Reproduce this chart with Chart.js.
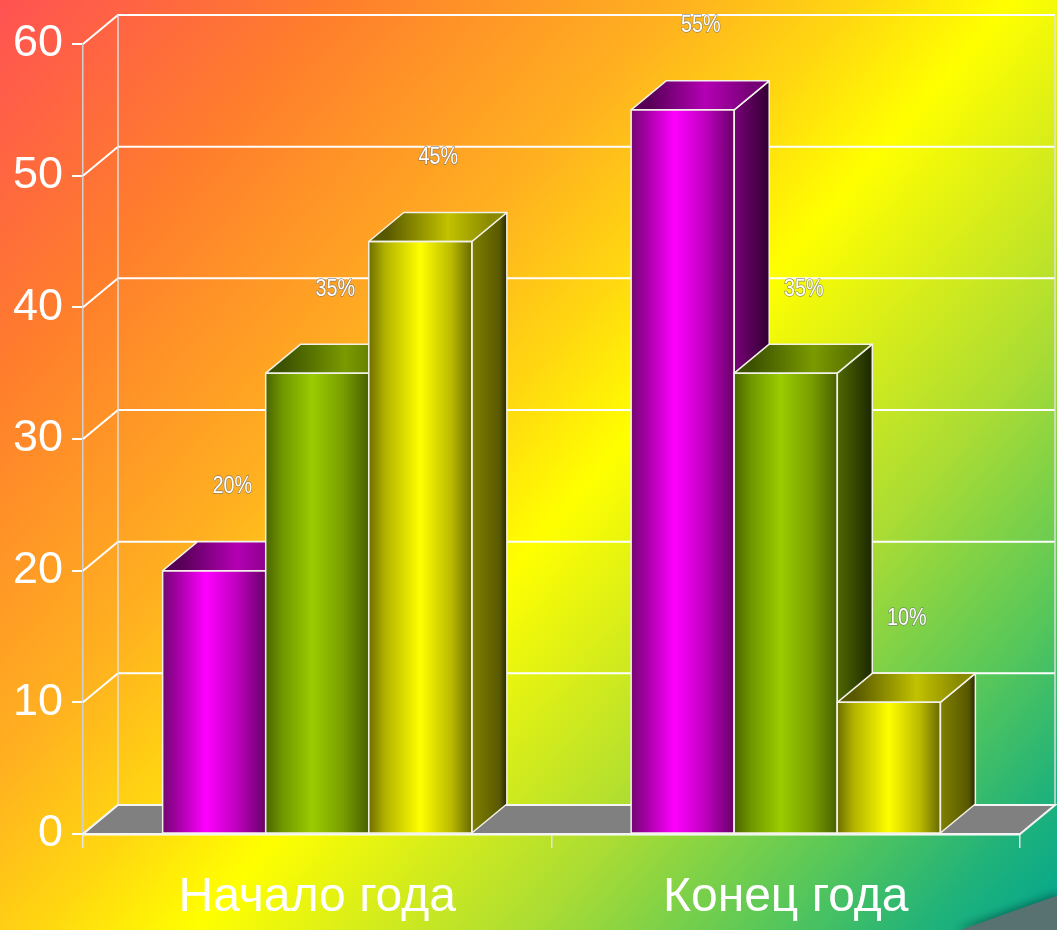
<!DOCTYPE html>
<html>
<head>
<meta charset="utf-8">
<script src="https://cdn.jsdelivr.net/npm/chart.js@4/dist/chart.umd.min.js"></script>
<style>
  html, body { margin: 0; padding: 0; background: #fff; }
  #wrap { width: 1057px; height: 930px; }
</style>
</head>
<body>
<div id="wrap"><canvas id="c" width="1057" height="930"></canvas></div>
<script>
// ---- data ----
const categories = ['Начало года', 'Конец года'];
const series1 = [20, 55];   // magenta
const series2 = [35, 35];   // green
const series3 = [45, 10];   // yellow
const yMin = 0, yMax = 60, yStep = 10;

// ---- styles ----
const DEPTH_X = 35, DEPTH_Y = -29;
const palettes = [
  { front: [[0,'#720872'],[0.14,'#A200A2'],[0.42,'#FF00FF'],[0.72,'#BE00BE'],[1,'#680068']],
    side:  [[0,'#780078'],[1,'#320032']],
    top:   [[0,'#560056'],[0.55,'#B400B4'],[1,'#760076']] },
  { front: [[0,'#4A6400'],[0.16,'#6E9600'],[0.45,'#9ACC00'],[0.75,'#789E00'],[1,'#486000']],
    side:  [[0,'#4E6800'],[1,'#1C2800']],
    top:   [[0,'#3C5200'],[0.6,'#7A9A00'],[1,'#587000']] },
  { front: [[0,'#6E6E00'],[0.16,'#B2B200'],[0.5,'#FFFF00'],[0.8,'#BABA00'],[1,'#686800']],
    side:  [[0,'#808000'],[0.8,'#585800'],[1,'#282800']],
    top:   [[0,'#585800'],[0.6,'#C2C200'],[1,'#8A8A00']] }
];

function grad(ctx, x0, x1, stops) {
  const g = ctx.createLinearGradient(x0, 0, x1, 0);
  stops.forEach(s => g.addColorStop(s[0], s[1]));
  return g;
}

const bgPlugin = {
  id: 'bg',
  beforeDraw(chart) {
    const ctx = chart.ctx, w = chart.width, h = chart.height;
    ctx.save();
    const g = ctx.createLinearGradient(0, 0, w, h);
    g.addColorStop(0, '#FF5252');
    g.addColorStop(0.18, '#FF7E2C');
    g.addColorStop(0.36, '#FFB020');
    g.addColorStop(0.46, '#FFD810');
    g.addColorStop(0.54, '#FFFF00');
    g.addColorStop(0.62, '#DAEE18');
    g.addColorStop(0.72, '#AADC34');
    g.addColorStop(0.84, '#5AC858');
    g.addColorStop(0.93, '#20B27A');
    g.addColorStop(1, '#00A690');
    ctx.fillStyle = g;
    ctx.fillRect(0, 0, w, h);
    // decorative swoosh bottom-right
    ctx.shadowColor = 'rgba(0,60,50,0.6)';
    ctx.shadowBlur = 10;
    ctx.shadowOffsetY = -2;
    ctx.beginPath();
    ctx.moveTo(955, h + 2);
    ctx.quadraticCurveTo(1010, 912, w + 2, 895);
    ctx.lineTo(w + 2, h + 2);
    ctx.closePath();
    ctx.fillStyle = '#587272';
    ctx.fill();
    ctx.restore();
  },
  beforeDatasetsDraw(chart) {
    const ctx = chart.ctx, ca = chart.chartArea, ys = chart.scales.y;
    ctx.save();
    ctx.lineWidth = 2;
    ctx.strokeStyle = '#FFFFFF';
    // wall grid lines
    ys.ticks.forEach(t => {
      const y = ys.getPixelForValue(t.value);
      ctx.beginPath();
      ctx.moveTo(ca.left, y);
      ctx.lineTo(ca.left + DEPTH_X, y + DEPTH_Y);
      ctx.lineTo(ca.right + DEPTH_X, y + DEPTH_Y);
      ctx.stroke();
    });
    // back wall edges
    ctx.lineWidth = 1.5;
    ctx.strokeStyle = 'rgba(225,225,225,0.95)';
    ctx.beginPath();
    ctx.moveTo(ca.left + DEPTH_X, ca.top + DEPTH_Y);
    ctx.lineTo(ca.left + DEPTH_X, ca.bottom + DEPTH_Y);
    ctx.moveTo(ca.right + DEPTH_X, ca.top + DEPTH_Y);
    ctx.lineTo(ca.right + DEPTH_X, ca.bottom + DEPTH_Y);
    ctx.stroke();
    // floor
    ctx.beginPath();
    ctx.moveTo(ca.left, ca.bottom);
    ctx.lineTo(ca.right, ca.bottom);
    ctx.lineTo(ca.right + DEPTH_X, ca.bottom + DEPTH_Y);
    ctx.lineTo(ca.left + DEPTH_X, ca.bottom + DEPTH_Y);
    ctx.closePath();
    ctx.fillStyle = '#808080';
    ctx.fill();
    ctx.lineWidth = 2;
    ctx.strokeStyle = '#F4F4F4';
    ctx.stroke();
    ctx.restore();
  },
  afterDatasetsDraw(chart) {
    const ctx = chart.ctx;
    const nDs = chart.data.datasets.length;
    const bars = [];
    for (let i = 0; i < categories.length; i++) {
      for (let d = 0; d < nDs; d++) {
        const el = chart.getDatasetMeta(d).data[i];
        bars.push({ el, d, v: chart.data.datasets[d].data[i] });
      }
    }
    ctx.save();
    ctx.lineJoin = 'round';
    bars.forEach(b => {
      const p = b.el.getProps(['x', 'y', 'base', 'width'], true);
      const L = p.x - p.width / 2, R = p.x + p.width / 2, T = p.y, B = p.base;
      const pal = palettes[b.d];
      // front
      ctx.fillStyle = grad(ctx, L, R, pal.front);
      ctx.fillRect(L, T, R - L, B - T);
      // side
      ctx.beginPath();
      ctx.moveTo(R, T); ctx.lineTo(R + DEPTH_X, T + DEPTH_Y);
      ctx.lineTo(R + DEPTH_X, B + DEPTH_Y); ctx.lineTo(R, B); ctx.closePath();
      ctx.fillStyle = grad(ctx, R, R + DEPTH_X, pal.side);
      ctx.fill();
      ctx.strokeStyle = '#F2F2E8'; ctx.lineWidth = 1.5; ctx.stroke();
      // top
      ctx.beginPath();
      ctx.moveTo(L, T); ctx.lineTo(L + DEPTH_X, T + DEPTH_Y);
      ctx.lineTo(R + DEPTH_X, T + DEPTH_Y); ctx.lineTo(R, T); ctx.closePath();
      ctx.fillStyle = grad(ctx, L + DEPTH_X / 2, R + DEPTH_X / 2, pal.top);
      ctx.fill();
      ctx.stroke();
      // front outline
      ctx.strokeRect(L, T, R - L, B - T);
    });
    // value labels
    ctx.font = '23px "Liberation Sans", Arial, sans-serif';
    ctx.textAlign = 'center';
    ctx.textBaseline = 'middle';
    bars.forEach(b => {
      const p = b.el.getProps(['x', 'y'], true);
      const tx = p.x + 18, ty = p.y - 84;
      const txt = b.v + '%';
      ctx.save();
      ctx.translate(tx, ty);
      ctx.scale(0.86, 1);
      ctx.lineWidth = 1.4;
      ctx.strokeStyle = 'rgba(110,110,110,0.75)';
      ctx.strokeText(txt, 0, 0);
      ctx.fillStyle = '#FFFFFF';
      ctx.fillText(txt, 0, 0);
      ctx.restore();
    });
    ctx.restore();
  }
};

const chart = new Chart(document.getElementById('c'), {
  type: 'bar',
  data: {
    labels: categories,
    datasets: [
      { label: 'Ряд 1', data: series1 },
      { label: 'Ряд 2', data: series2 },
      { label: 'Ряд 3', data: series3 }
    ].map(ds => Object.assign(ds, {
      backgroundColor: 'rgba(0,0,0,0)', borderWidth: 0,
      categoryPercentage: 0.66, barPercentage: 1.0
    }))
  },
  options: {
    responsive: false,
    devicePixelRatio: 1,
    animation: false,
    layout: { padding: { top: 44, right: 37, left: 0, bottom: 0 } },
    plugins: { legend: { display: false }, tooltip: { enabled: false } },
    scales: {
      x: {
        grid: { display: true, drawOnChartArea: false, drawTicks: true, tickLength: 14, color: '#E6E6E6', lineWidth: 1.5, offset: true },
        border: { display: true, color: '#FFFFFF', width: 2.5 },
        ticks: { color: '#FFFFFF', font: { family: '"Liberation Sans", Arial, sans-serif', size: 48 }, padding: 21, maxRotation: 0 },
        afterFit(s) { s.height = 96; }
      },
      y: {
        min: yMin, max: yMax,
        grid: { display: true, drawOnChartArea: false, drawTicks: true, tickLength: 11, color: '#FFFFFF', lineWidth: 2 },
        border: { display: true, color: '#CFCFCF', width: 1.5 },
        ticks: { stepSize: yStep, color: '#FFFFFF', font: { family: '"Liberation Sans", Arial, sans-serif', size: 45 }, padding: 9 },
        afterFit(s) { s.width = 83; }
      }
    }
  },
  plugins: [bgPlugin]
});
</script>
</body>
</html>
